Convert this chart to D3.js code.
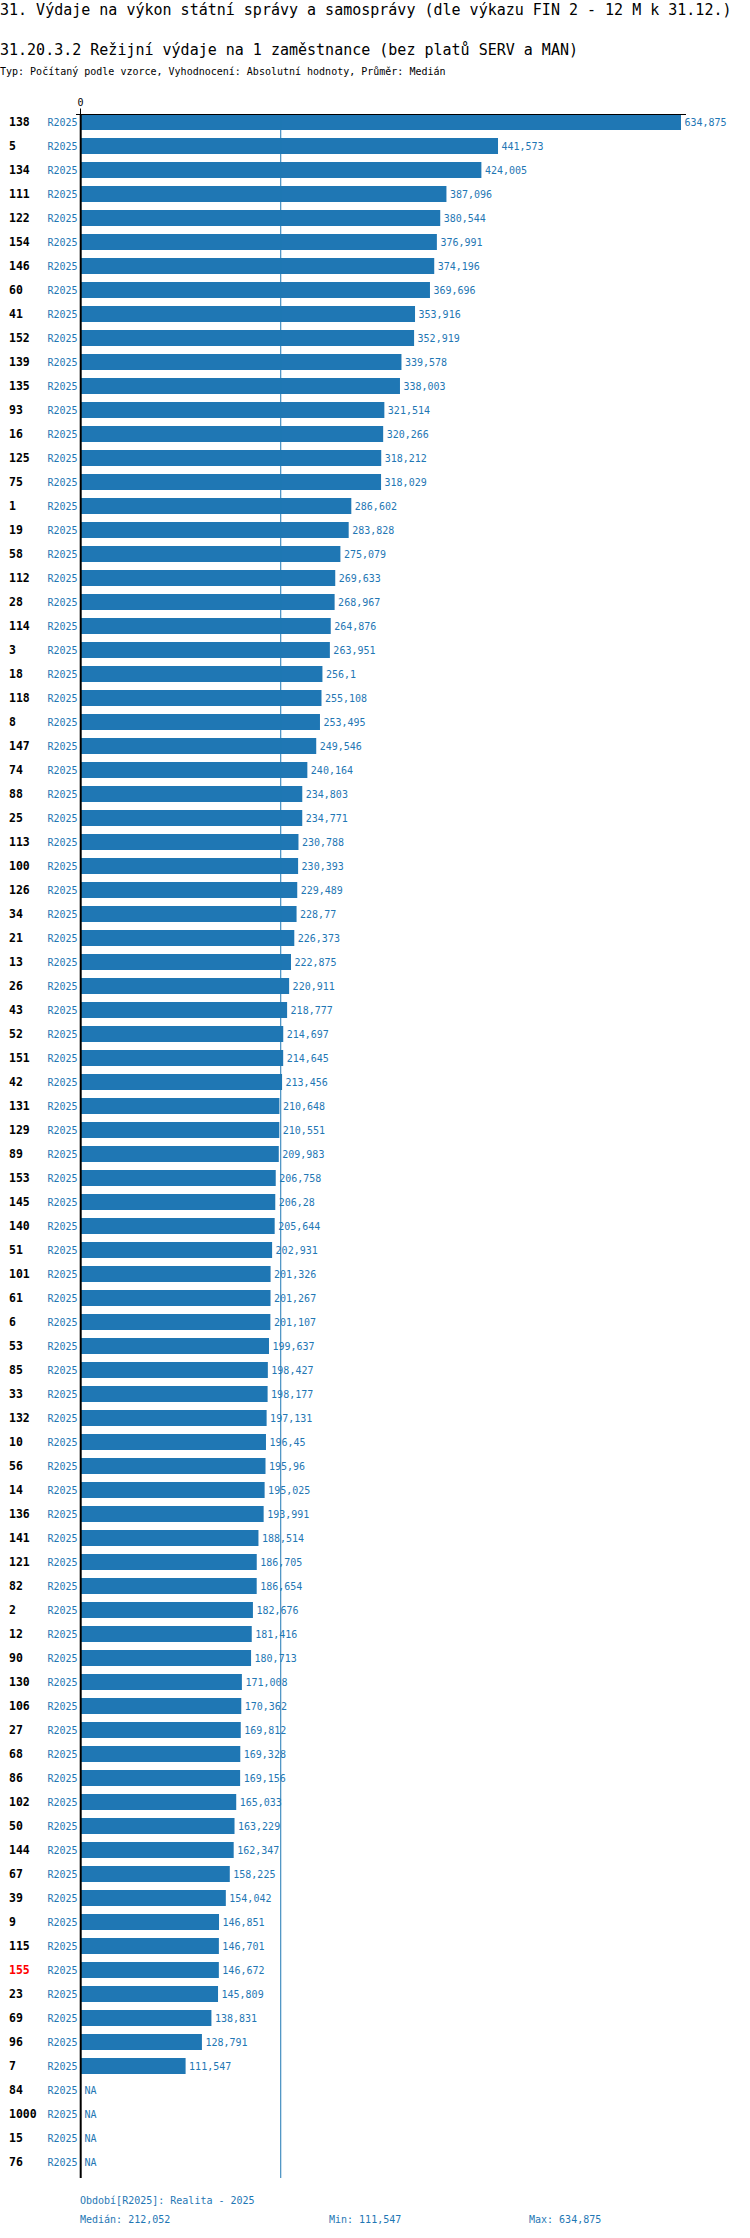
<!DOCTYPE html>
<html>
<head>
<meta charset="utf-8">
<title>31.20.3.2 Režijní výdaje na 1 zaměstnance</title>
<script src="https://cdn.jsdelivr.net/npm/d3@7"></script>
<style>
    body{ margin:0; background:#fff; }
    svg text{ font-family:"DejaVu Sans Mono", monospace; }
    .title{ font-size:15px; fill:#000; }
    .note{ font-size:10px; fill:#000; }
    .rowlabel{ font-size:11.5px; font-weight:bold; fill:#000; }
    .period{ font-size:10px; fill:#1f77b4; }
    .vlabel{ font-size:10px; fill:#1f77b4; }
    .foot{ font-size:10px; fill:#1f77b4; }
    .bar{ fill:#1f77b4; }
</style>
</head>
<body>
<script>
// data (values in thousands, Czech decimal comma)
const units = ["138","5","134","111","122","154","146","60","41","152","139","135","93","16","125","75",
    "1","19","58","112","28","114","3","18","118","8","147","74","88","25","113","100","126","34","21",
    "13","26","43","52","151","42","131","129","89","153","145","140","51","101","61","6","53","85","33",
    "132","10","56","14","136","141","121","82","2","12","90","130","106","27","68","86","102","50","144",
    "67","39","9","115","155","23","69","96","7","84","1000","15","76"]
const values = [634.875,441.573,424.005,387.096,380.544,376.991,374.196,369.696,353.916,352.919,339.578,
    338.003,321.514,320.266,318.212,318.029,286.602,283.828,275.079,269.633,268.967,264.876,263.951,256.1,
    255.108,253.495,249.546,240.164,234.803,234.771,230.788,230.393,229.489,228.77,226.373,222.875,220.911,
    218.777,214.697,214.645,213.456,210.648,210.551,209.983,206.758,206.28,205.644,202.931,201.326,201.267,
    201.107,199.637,198.427,198.177,197.131,196.45,195.96,195.025,193.991,188.514,186.705,186.654,182.676,
    181.416,180.713,171.008,170.362,169.812,169.328,169.156,165.033,163.229,162.347,158.225,154.042,146.851,
    146.701,146.672,145.809,138.831,128.791,111.547,null,null,null,null]
const period = "R2025"
const highlight = "155"
const median = 212.052
const xTicks = [0]

const title = "31. Výdaje na výkon státní správy a samosprávy (dle výkazu FIN 2 - 12 M k 31.12.)"
const subtitle = "31.20.3.2 Režijní výdaje na 1 zaměstnance (bez platů SERV a MAN)"
const typLine = "Typ: Počítaný podle vzorce, Vyhodnocení: Absolutní hodnoty, Průměr: Medián"

let w = 750
let h = 2238
let topY = 114
let step = 24

let cz = d3.formatLocale({decimal: ",", thousands: " ", grouping: [3], currency: ["", " Kč"]})
let fmt = cz.format(".3~f")

let rows = units.map((u, i) => ({unit: u, value: values[i]}))
let known = values.filter(v => v != null)

let svg = d3.select("body").append("svg")
    .attr("width", w)
    .attr("height", h)

let x = d3.scaleLinear()
    .domain([0, d3.max(known)])
    .range([80, 681])

let y = d3.scaleBand()
    .domain(units)
    .range([topY, topY + step * units.length])
    .paddingInner(1/3)
    .paddingOuter(1/6)
    .align(0)

// titles
svg.append("text").attr("class", "title").attr("x", 0).attr("y", 15).text(title)
svg.append("text").attr("class", "title").attr("x", 0).attr("y", 55).text(subtitle)
svg.append("text").attr("class", "note").attr("x", 0).attr("y", 75).text(typLine)

// bars
svg.selectAll(".bar")
    .data(rows.filter(d => d.value != null))
    .enter().append("rect")
    .attr("class", "bar")
    .attr("x", x(0))
    .attr("y", d => y(d.unit))
    .attr("width", d => x(d.value) - x(0))
    .attr("height", y.bandwidth())

// value labels
svg.selectAll(".vlabel")
    .data(rows)
    .enter().append("text")
    .attr("class", "vlabel")
    .attr("x", d => (d.value == null ? x(0) + 4.5 : x(d.value) + 3.5))
    .attr("y", d => y(d.unit) + y.bandwidth() / 2)
    .attr("dy", "0.35em")
    .text(d => d.value == null ? "NA" : fmt(d.value))

// row labels
svg.selectAll(".rowlabel")
    .data(rows)
    .enter().append("text")
    .attr("class", "rowlabel")
    .attr("x", 9)
    .attr("y", d => y(d.unit) + y.bandwidth() / 2)
    .attr("dy", "0.35em")
    .style("fill", d => d.unit == highlight ? "#ff0000" : null)
    .text(d => d.unit)

svg.selectAll(".period")
    .data(rows)
    .enter().append("text")
    .attr("class", "period")
    .attr("x", 77.5)
    .attr("y", d => y(d.unit) + y.bandwidth() / 2)
    .attr("dy", "0.35em")
    .attr("text-anchor", "end")
    .text(period)

// median line
let yEnd = topY + step * units.length
svg.append("line")
    .attr("x1", x(median)).attr("x2", x(median))
    .attr("y1", topY).attr("y2", yEnd)
    .attr("stroke", "#1f77b4")
    .attr("stroke-width", 1)

// top axis
let axis = svg.append("g")
    .attr("transform", "translate(0," + (topY + 0.5) + ")")
    .call(d3.axisTop(x).tickValues(xTicks).tickSizeOuter(0).tickFormat(d3.format("d")))
axis.select(".domain").attr("d", "M76,0H686")
axis.selectAll("text").style("font-size", "10px").style("font-family", "DejaVu Sans Mono")
axis.selectAll(".tick line").attr("stroke", "#000")

// left axis line
svg.append("line")
    .attr("x1", 80.7).attr("x2", 80.7)
    .attr("y1", topY).attr("y2", yEnd)
    .attr("stroke", "#000")
    .attr("stroke-width", 2)

// footer
svg.append("text").attr("class", "foot").attr("x", 80).attr("y", 2204)
    .text("Období[" + period + "]: Realita - 2025")
svg.append("text").attr("class", "foot").attr("x", 80).attr("y", 2223)
    .text("Medián: " + fmt(median))
svg.append("text").attr("class", "foot").attr("x", 329).attr("y", 2223)
    .text("Min: " + fmt(d3.min(known)))
svg.append("text").attr("class", "foot").attr("x", 529).attr("y", 2223)
    .text("Max: " + fmt(d3.max(known)))
</script>
</body>
</html>
